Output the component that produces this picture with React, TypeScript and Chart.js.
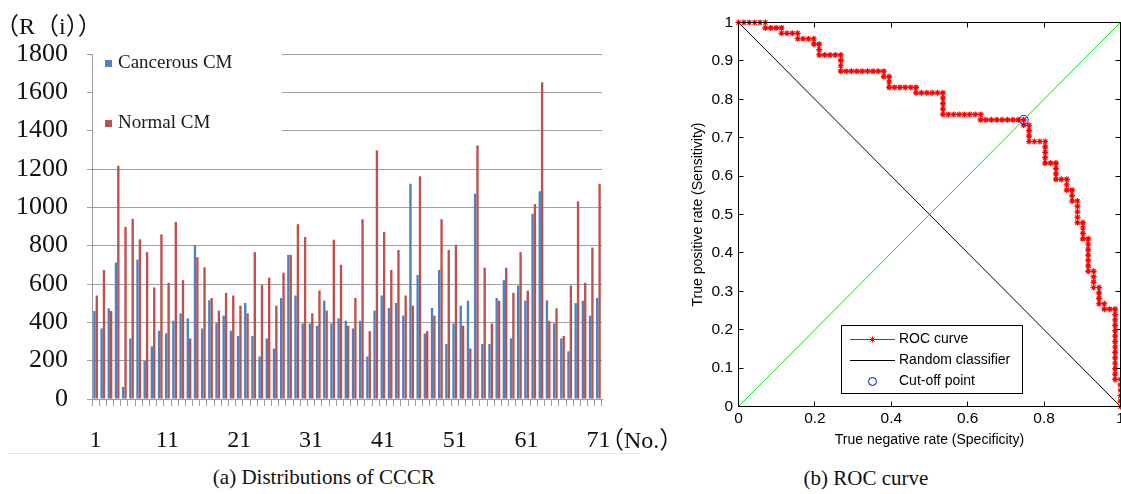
import React, { useEffect, useRef } from "react";
import { Chart, registerables } from "chart.js";

Chart.register(...registerables);

// ---------- Left chart data: Distributions of CCCR ----------
const categories: string[] = Array.from({ length: 71 }, (_, i) => String(i + 1));
const seriesNames = ["Cancerous CM", "Normal CM"];
const cancerousCM = [
  459, 368, 473, 712, 63, 316, 727, 198, 275, 356,
  343, 408, 447, 421, 804, 368, 515, 396, 435, 356,
  329, 501, 329, 222, 316, 263, 527, 752, 540, 394,
  394, 382, 513, 394, 421, 408, 368, 408, 222, 461,
  540, 475, 501, 435, 1123, 647, 342, 475, 673, 287,
  394, 487, 513, 1071, 287, 287, 527, 620, 316, 592,
  513, 966, 1084, 515, 394, 316, 249, 500, 513, 435,
  527,
];
const normalCM = [
  540, 673, 459, 1217, 898, 940, 833, 766, 582, 859,
  606, 924, 620, 316, 740, 687, 527, 461, 554, 540,
  487, 447, 766, 594, 633, 487, 659, 752, 912, 845,
  447, 566, 461, 831, 700, 382, 527, 938, 354, 1297,
  871, 673, 778, 540, 487, 1162, 354, 435, 938, 778,
  804, 382, 263, 1323, 685, 394, 513, 685, 554, 766,
  566, 1017, 1653, 408, 473, 329, 592, 1031, 606, 790,
  1123,
];
const leftYMin = 0;
const leftYMax = 1800;
const leftYStep = 200;
const leftLabelEvery = 10;

// ---------- Right chart data: ROC curve ----------
// [specificity count, sensitivity count] out of rocTotal
const rocTotal = 71;
const rocSteps: [number, number][] = [
  [0, 71], [1, 71], [2, 71], [3, 71], [4, 71], [5, 71],
  [5, 70], [6, 70], [7, 70], [8, 70],
  [8, 69], [9, 69], [10, 69], [11, 69],
  [11, 68], [12, 68], [13, 68], [14, 68],
  [14, 67], [15, 67],
  [15, 66], [15, 65], [16, 65], [17, 65], [18, 65], [19, 65],
  [19, 64], [19, 63], [19, 62],
  [20, 62], [21, 62], [22, 62], [23, 62], [24, 62], [25, 62], [26, 62], [27, 62],
  [27, 61], [28, 61],
  [28, 60], [28, 59], [29, 59], [30, 59], [31, 59], [32, 59], [33, 59],
  [33, 58], [34, 58], [35, 58], [36, 58], [37, 58], [38, 58],
  [38, 57], [38, 56], [38, 55], [38, 54],
  [39, 54], [40, 54], [41, 54], [42, 54], [43, 54], [44, 54], [45, 54],
  [45, 53], [46, 53], [47, 53], [48, 53], [49, 53], [50, 53], [51, 53], [52, 53], [53, 53],
  [53, 52], [54, 52],
  [54, 51], [54, 50], [54, 49], [55, 49], [56, 49], [57, 49],
  [57, 48], [57, 47], [57, 46], [57, 45], [58, 45], [59, 45],
  [59, 44], [59, 43], [59, 42], [60, 42], [61, 42],
  [61, 41], [61, 40], [62, 40],
  [62, 39], [62, 38], [63, 38],
  [63, 37], [63, 36], [63, 35], [63, 34], [64, 34],
  [64, 33], [64, 32], [64, 31], [65, 31],
  [65, 30], [65, 29], [65, 28], [65, 27], [65, 26], [65, 25], [66, 25],
  [66, 24], [66, 23], [66, 22], [67, 22],
  [67, 21], [67, 20], [67, 19], [68, 19],
  [68, 18], [69, 18], [70, 18],
  [70, 17], [70, 16], [70, 15], [70, 14], [70, 13], [70, 12], [70, 11], [70, 10],
  [70, 9], [70, 8], [70, 7], [70, 6], [70, 5],
  [71, 5], [71, 4], [71, 3], [71, 2], [71, 1], [71, 0],
];
const cutoffStep: [number, number] = [53, 53];
const rocLegend = ["ROC curve", "Random classifier", "Cut-off point"];
const rocXTitle = "True negative rate (Specificity)";
const rocYTitle = "True positive rate (Sensitivity)";

const BLUE = "#4f81bd";
const RED = "#c0504d";
const SERIF = "'Liberation Serif', 'Times New Roman', serif";
const SANS = "'Liberation Sans', Arial, sans-serif";

function BarChart() {
  const ref = useRef<HTMLCanvasElement>(null);
  useEffect(() => {
    const deco = {
      id: "leftDeco",
      beforeDatasetsDraw(chart: any) {
        const { ctx, chartArea } = chart;
        ctx.save();
        ctx.fillStyle = "#ffffff";
        ctx.fillRect(chartArea.left + 1, 40, 282 - chartArea.left - 1, 110);
        ctx.fillStyle = BLUE;
        ctx.fillRect(105, 60, 7, 7);
        ctx.fillStyle = RED;
        ctx.fillRect(105, 120, 7, 7);
        ctx.fillStyle = "#1a1a1a";
        ctx.font = `19px ${SERIF}`;
        ctx.textBaseline = "middle";
        ctx.textAlign = "left";
        ctx.fillText(seriesNames[0], 118, 63);
        ctx.fillText(seriesNames[1], 118, 123);
        ctx.restore();
      },
    };
    const chart = new Chart(ref.current!, {
      type: "bar",
      data: {
        labels: categories,
        datasets: [
          { label: seriesNames[0], data: cancerousCM, backgroundColor: BLUE, barPercentage: 1, categoryPercentage: 0.66 },
          { label: seriesNames[1], data: normalCM, backgroundColor: RED, barPercentage: 1, categoryPercentage: 0.66 },
        ],
      },
      options: {
        responsive: false,
        animation: false,
        layout: { padding: { left: 0, right: 88, top: 54, bottom: 0 } },
        plugins: { legend: { display: false }, tooltip: { enabled: false } },
        scales: {
          x: {
            grid: { display: true, drawOnChartArea: false, drawTicks: true, tickLength: 7, color: "#9a9a9a", offset: true },
            border: { display: true, color: "#9a9a9a" },
            ticks: {
              autoSkip: false,
              maxRotation: 0,
              minRotation: 0,
              padding: 20,
              color: "#111",
              font: { family: SERIF, size: 24 },
              callback: (_v: any, i: number) => (i % leftLabelEvery === 0 ? categories[i] : ""),
            },
            afterFit: (s: any) => { s.height = 61; },
          },
          y: {
            min: leftYMin,
            max: leftYMax,
            grid: { color: "#a0a0a0", tickLength: 5, drawTicks: true },
            border: { display: true, color: "#9a9a9a" },
            ticks: {
              stepSize: leftYStep,
              padding: 19,
              color: "#111",
              font: { family: SERIF, size: 26 },
              callback: (v: any) => String(v),
            },
            afterFit: (s: any) => { s.width = 92; },
          },
        },
      } as any,
      plugins: [deco],
    });
    return () => chart.destroy();
  }, []);
  return (
    <canvas
      ref={ref}
      width={690}
      height={460}
      style={{ position: "absolute", left: 0, top: 0, width: 690, height: 460 }}
    />
  );
}

function RocChart() {
  const ref = useRef<HTMLCanvasElement>(null);
  useEffect(() => {
    const OX = 690;
    const star = (ctx: any, x: number, y: number, r: number) => {
      ctx.beginPath();
      ctx.moveTo(x - r, y); ctx.lineTo(x + r, y);
      ctx.moveTo(x, y - r); ctx.lineTo(x, y + r);
      const d = r * 0.7071;
      ctx.moveTo(x - d, y - d); ctx.lineTo(x + d, y + d);
      ctx.moveTo(x - d, y + d); ctx.lineTo(x + d, y - d);
      ctx.stroke();
    };
    const deco = {
      id: "rocDeco",
      afterDatasetsDraw(chart: any) {
        const { ctx, chartArea, scales } = chart;
        const { left, right, top, bottom } = chartArea;
        ctx.save();
        ctx.strokeStyle = "#000";
        ctx.lineWidth = 1;
        ctx.strokeRect(left, top, right - left, bottom - top);
        const al = (p: number) => Math.round(p - 0.5) + 0.5;
        ctx.beginPath();
        for (const t of scales.y.ticks) {
          const y = al(scales.y.getPixelForValue(t.value));
          ctx.moveTo(left, y); ctx.lineTo(left + 5, y);
          ctx.moveTo(right, y); ctx.lineTo(right - 5, y);
        }
        for (const t of scales.x.ticks) {
          const x = al(scales.x.getPixelForValue(t.value));
          ctx.moveTo(x, bottom); ctx.lineTo(x, bottom - 5);
          ctx.moveTo(x, top); ctx.lineTo(x, top + 5);
        }
        ctx.stroke();

        // titles
        ctx.fillStyle = "#000";
        ctx.font = `14px ${SANS}`;
        ctx.textAlign = "center";
        ctx.textBaseline = "middle";
        ctx.fillText(rocXTitle, (left + right) / 2, 440);
        ctx.save();
        ctx.translate(698.5 - OX, (top + bottom) / 2);
        ctx.rotate(-Math.PI / 2);
        ctx.fillText(rocYTitle, 0, 0);
        ctx.restore();

        // legend
        const bx = 841.5 - OX, by = 325.5, bw = 181, bh = 68;
        ctx.fillStyle = "#fff";
        ctx.fillRect(bx, by, bw, bh);
        ctx.strokeStyle = "#000";
        ctx.strokeRect(bx, by, bw, bh);
        const lx0 = 850 - OX, lx1 = 895 - OX, mx = 872.5 - OX;
        const rows = [339.5, 360.5, 381.5];
        ctx.strokeStyle = "#ff0000";
        ctx.beginPath(); ctx.moveTo(lx0, rows[0]); ctx.lineTo(lx1, rows[0]); ctx.stroke();
        star(ctx, mx, rows[0], 3);
        ctx.strokeStyle = "#000";
        ctx.beginPath(); ctx.moveTo(lx0, rows[1]); ctx.lineTo(lx1, rows[1]); ctx.stroke();
        ctx.strokeStyle = "#0000ff";
        ctx.beginPath(); ctx.arc(mx, rows[2], 4, 0, Math.PI * 2); ctx.stroke();
        ctx.fillStyle = "#000";
        ctx.textAlign = "left";
        ctx.textBaseline = "middle";
        rocLegend.forEach((s, i) => ctx.fillText(s, 899 - OX, rows[i] - 0.5));
        ctx.restore();
      },
    };
    const roc = rocSteps.map(([s, p]) => ({ x: s / rocTotal, y: p / rocTotal }));
    const cut = [{ x: cutoffStep[0] / rocTotal, y: cutoffStep[1] / rocTotal }];
    const fmt = (v: any) => String(Math.round(Number(v) * 10) / 10);
    const chart = new Chart(ref.current!, {
      type: "scatter",
      data: {
        datasets: [
          { label: rocLegend[2], data: cut, showLine: false, pointStyle: "circle", pointRadius: 4.5, pointBorderColor: "#0000ff", pointBackgroundColor: "rgba(0,0,0,0)", pointBorderWidth: 1, order: 0, clip: 8 },
          { label: rocLegend[0], data: roc, showLine: true, borderColor: "#ff0000", borderWidth: 1, pointStyle: "star", pointRadius: 3, pointBorderColor: "#ff0000", pointBackgroundColor: "#ff0000", pointBorderWidth: 1.2, order: 1, clip: 5 },
          { label: rocLegend[1], data: [{ x: 0, y: 1 }, { x: 1, y: 0 }], showLine: true, borderColor: "#000000", borderWidth: 1, pointRadius: 0, order: 2 },
          { label: "diagonal", data: [{ x: 0, y: 0 }, { x: 1, y: 1 }], showLine: true, borderColor: "#00e600", borderWidth: 1, pointRadius: 0, order: 3 },
        ],
      },
      options: {
        responsive: false,
        animation: false,
        layout: { padding: { left: 0, right: 39.5, top: 22.5, bottom: 0 } },
        plugins: { legend: { display: false }, tooltip: { enabled: false } },
        scales: {
          x: {
            type: "linear",
            min: 0,
            max: 1,
            grid: { display: false, drawTicks: false },
            border: { display: false },
            ticks: { stepSize: 0.2, padding: 3, color: "#000", font: { family: SANS, size: 15.5 }, callback: fmt, maxRotation: 0 },
            afterFit: (s: any) => { s.height = 53.5; },
          },
          y: {
            min: 0,
            max: 1,
            grid: { display: false, drawTicks: false },
            border: { display: false },
            ticks: { stepSize: 0.1, padding: 5.5, color: "#000", font: { family: SANS, size: 15.5 }, callback: fmt },
            afterFit: (s: any) => { s.width = 48.5; },
          },
        },
      } as any,
      plugins: [deco],
    });
    return () => chart.destroy();
  }, []);
  return (
    <canvas
      ref={ref}
      width={470}
      height={460}
      style={{ position: "absolute", left: 690, top: 0, width: 470, height: 460 }}
    />
  );
}

export default function App() {
  return (
    <div
      style={{
        position: "absolute",
        left: 0,
        top: 0,
        width: 1121,
        height: 494,
        overflow: "hidden",
        background: "#fff",
      }}
    >
      <BarChart />
      <RocChart />
      <div
        style={{
          position: "absolute",
          left: -5,
          top: 11,
          fontFamily: `${SERIF}, 'Noto Sans CJK SC'`,
          fontSize: 24,
          lineHeight: "30px",
          color: "#111",
          whiteSpace: "nowrap",
        }}
      >
        （R（i））
      </div>
      <div
        style={{
          position: "absolute",
          left: 600,
          top: 425,
          fontFamily: `${SERIF}, 'Noto Sans CJK SC'`,
          fontSize: 24,
          lineHeight: "30px",
          color: "#111",
          whiteSpace: "nowrap",
        }}
      >
        （No.）
      </div>
      <div style={{ position: "absolute", left: 8, top: 453, width: 632, height: 1, background: "#e4e4e4" }} />
      <div
        style={{
          position: "absolute",
          left: 124,
          width: 400,
          top: 464,
          textAlign: "center",
          fontFamily: SERIF,
          fontSize: 21,
          lineHeight: "26px",
          color: "#111",
          whiteSpace: "nowrap",
        }}
      >
        (a) Distributions of CCCR
      </div>
      <div
        style={{
          position: "absolute",
          left: 666,
          width: 400,
          top: 465,
          textAlign: "center",
          fontFamily: SERIF,
          fontSize: 21,
          lineHeight: "26px",
          color: "#111",
          whiteSpace: "nowrap",
        }}
      >
        (b) ROC curve
      </div>
    </div>
  );
}
